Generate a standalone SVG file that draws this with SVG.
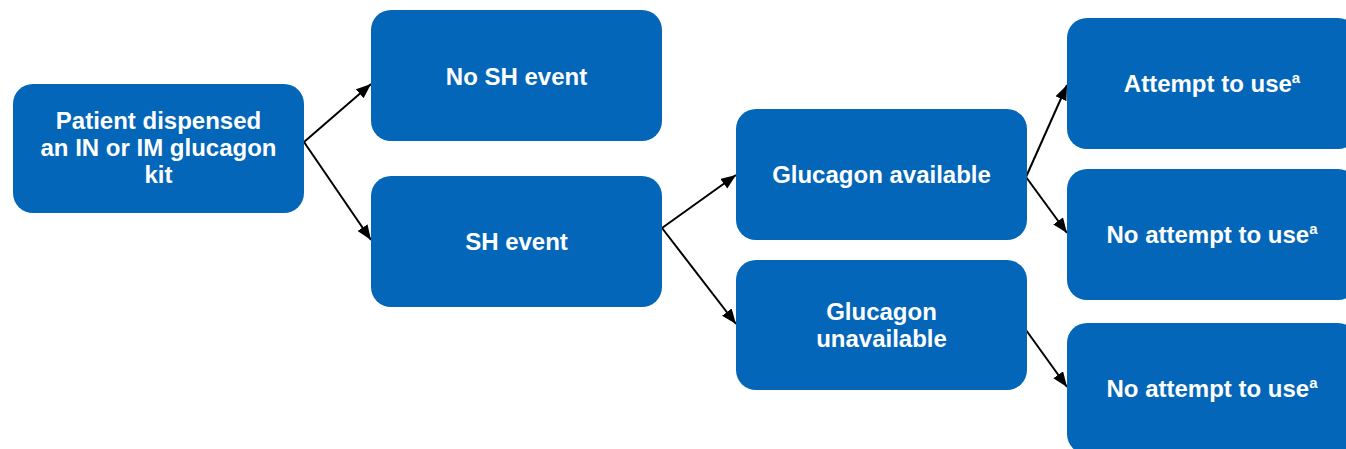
<svg xmlns="http://www.w3.org/2000/svg" width="1346" height="449" viewBox="0 0 1346 449">
<style>
.box{fill:#0366B8;}
.t{fill:#fff;font-family:"Liberation Sans",Arial,sans-serif;font-weight:bold;font-size:24px;text-anchor:middle;}
.sup{font-size:15px;}
.conn{stroke:#000;stroke-width:2;fill:none;marker-end:url(#ah);}
</style>
<defs>
<marker id="ah" markerUnits="userSpaceOnUse" markerWidth="16" markerHeight="13" refX="15" refY="6" orient="auto">
<path d="M0,0 L15,6 L0,12 z" fill="#000"/>
</marker>
</defs>
<rect width="1346" height="449" fill="#fff"/>
<g id="connectors">
<polyline class="conn" points="304,142 371,84"/>
<polyline class="conn" points="304,142 371,240"/>
<polyline class="conn" points="662,228 736,175"/>
<polyline class="conn" points="662,228 736,324"/>
<polyline class="conn" points="1026,177 1067,85"/>
<polyline class="conn" points="1026,177 1067,233"/>
<polyline class="conn" points="1026,330 1067,387"/>
</g>
<g id="n1">
<rect class="box" x="13" y="84" width="291" height="129" rx="20"/>
<text class="t" x="158.5" y="129">Patient dispensed</text>
<text class="t" x="158.5" y="156">an IN or IM glucagon</text>
<text class="t" x="158.5" y="183">kit</text>
</g>
<g id="n2">
<rect class="box" x="371" y="10" width="291" height="131" rx="20"/>
<text class="t" x="516.5" y="85">No SH event</text>
</g>
<g id="n3">
<rect class="box" x="371" y="176" width="291" height="131" rx="20"/>
<text class="t" x="516.5" y="250">SH event</text>
</g>
<g id="n4">
<rect class="box" x="736" y="109" width="291" height="131" rx="20"/>
<text class="t" x="881.5" y="183">Glucagon available</text>
</g>
<g id="n5">
<rect class="box" x="736" y="260" width="291" height="130" rx="20"/>
<text class="t" x="881.5" y="320">Glucagon</text>
<text class="t" x="881.5" y="347">unavailable</text>
</g>
<g id="n6">
<rect class="box" x="1067" y="18" width="291" height="131" rx="20"/>
<text class="t" x="1212" y="92">Attempt to use<tspan class="sup" dy="-9">a</tspan></text>
</g>
<g id="n7">
<rect class="box" x="1067" y="169" width="291" height="131" rx="20"/>
<text class="t" x="1212" y="243">No attempt to use<tspan class="sup" dy="-9">a</tspan></text>
</g>
<g id="n8">
<rect class="box" x="1067" y="323" width="291" height="131" rx="20"/>
<text class="t" x="1212" y="397">No attempt to use<tspan class="sup" dy="-9">a</tspan></text>
</g>
</svg>
